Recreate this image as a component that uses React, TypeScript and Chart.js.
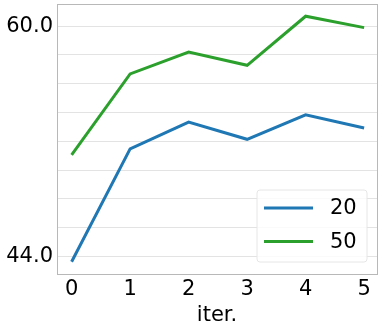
import React, { useEffect, useRef } from "react";
import { Chart, registerables } from "chart.js";

Chart.register(...registerables);

const iterations = [0, 1, 2, 3, 4, 5];
const seriesLabels = ["20", "50"];
const series20 = [43.63, 51.47, 53.34, 52.14, 53.84, 52.92];
const series50 = [51.05, 56.68, 58.2, 57.28, 60.69, 59.9];
const yGridValues = [44, 46, 48, 50, 52, 54, 56, 58, 60];
const yLabeledTicks = [44, 60];
const xTickValues = [0, 1, 2, 3, 4, 5];

const FONT = "'DejaVu Sans', sans-serif";

const framePlugin = {
  id: "frame",
  afterDatasetsDraw(chart: any) {
    const { ctx, chartArea } = chart;
    ctx.save();
    ctx.strokeStyle = "#b8b8b8";
    ctx.lineWidth = 1;
    ctx.strokeRect(
      Math.round(chartArea.left) + 0.5,
      Math.round(chartArea.top) + 0.5,
      Math.round(chartArea.right - chartArea.left),
      Math.round(chartArea.bottom - chartArea.top)
    );
    ctx.restore();
  },
};

const legendPlugin = {
  id: "innerLegend",
  afterDraw(chart: any) {
    const { ctx, chartArea } = chart;
    const boxRight = chartArea.right - 10;
    const boxBottom = chartArea.bottom - 12;
    const boxW = 110;
    const boxH = 72;
    const x0 = boxRight - boxW;
    const y0 = boxBottom - boxH;
    ctx.save();
    ctx.beginPath();
    const r = 3;
    ctx.moveTo(x0 + r, y0);
    ctx.lineTo(x0 + boxW - r, y0);
    ctx.quadraticCurveTo(x0 + boxW, y0, x0 + boxW, y0 + r);
    ctx.lineTo(x0 + boxW, y0 + boxH - r);
    ctx.quadraticCurveTo(x0 + boxW, y0 + boxH, x0 + boxW - r, y0 + boxH);
    ctx.lineTo(x0 + r, y0 + boxH);
    ctx.quadraticCurveTo(x0, y0 + boxH, x0, y0 + boxH - r);
    ctx.lineTo(x0, y0 + r);
    ctx.quadraticCurveTo(x0, y0, x0 + r, y0);
    ctx.closePath();
    ctx.fillStyle = "rgba(255,255,255,0.8)";
    ctx.fill();
    ctx.strokeStyle = "#e6e6e6";
    ctx.lineWidth = 1;
    ctx.stroke();
    chart.data.datasets.forEach((ds: any, i: number) => {
      const y = y0 + 18 + i * 33.5;
      ctx.beginPath();
      ctx.strokeStyle = ds.borderColor;
      ctx.lineWidth = 3;
      ctx.moveTo(x0 + 7, y);
      ctx.lineTo(x0 + 56, y);
      ctx.stroke();
      ctx.fillStyle = "#000";
      ctx.font = `21px ${FONT}`;
      ctx.textAlign = "left";
      ctx.textBaseline = "middle";
      ctx.fillText(ds.label, x0 + 73, y + 1);
    });
    ctx.restore();
  },
};

export default function App() {
  const canvasRef = useRef<HTMLCanvasElement | null>(null);

  useEffect(() => {
    document.body.style.margin = "0";
    const canvas = canvasRef.current;
    if (!canvas) return;
    const chart = new Chart(canvas, {
      type: "line",
      data: {
        datasets: [
          {
            label: seriesLabels[0],
            data: iterations.map((x, i) => ({ x, y: series20[i] })),
            borderColor: "#1f77b4",
            backgroundColor: "#1f77b4",
            borderWidth: 3,
            pointRadius: 0,
            tension: 0,
          },
          {
            label: seriesLabels[1],
            data: iterations.map((x, i) => ({ x, y: series50[i] })),
            borderColor: "#2ca02c",
            backgroundColor: "#2ca02c",
            borderWidth: 3,
            pointRadius: 0,
            tension: 0,
          },
        ],
      },
      options: {
        responsive: false,
        animation: false,
        devicePixelRatio: 1,
        layout: { padding: { top: 4, right: 6, left: 0, bottom: 0 } },
        plugins: {
          legend: { display: false },
          tooltip: { enabled: false },
        },
        scales: {
          x: {
            type: "linear",
            min: -0.25,
            max: 5.22,
            afterBuildTicks: (scale: any) => {
              scale.ticks = xTickValues.map((v) => ({ value: v }));
            },
            afterFit: (scale: any) => {
              scale.height = 54;
              scale.paddingLeft = 0;
              scale.paddingRight = 0;
            },
            grid: { display: false, drawTicks: false },
            border: { display: false },
            ticks: {
              color: "#000",
              font: { family: FONT, size: 21 },
              padding: 3,
              maxRotation: 0,
              callback: (v: any) => String(v),
            },
            title: {
              display: true,
              text: "iter.",
              color: "#000",
              font: { family: FONT, size: 21 },
              padding: { top: -5, bottom: 0 },
            },
          },
          y: {
            type: "linear",
            min: 42.78,
            max: 61.54,
            afterBuildTicks: (scale: any) => {
              scale.ticks = yGridValues.map((v) => ({ value: v }));
            },
            afterFit: (scale: any) => {
              scale.width = 57;
              scale.paddingTop = 0;
              scale.paddingBottom = 0;
            },
            grid: { color: "#e3e3e3", lineWidth: 1, drawTicks: false },
            border: { display: false },
            ticks: {
              color: "#000",
              font: { family: FONT, size: 21 },
              padding: 4,
              callback: (v: any) =>
                yLabeledTicks.includes(Number(v)) ? Number(v).toFixed(1) : "",
            },
          },
        },
      },
      plugins: [framePlugin, legendPlugin],
    });
    return () => chart.destroy();
  }, []);

  return (
    <div style={{ position: "fixed", left: 0, top: 0, width: 383, height: 328, background: "#fff" }}>
      <canvas ref={canvasRef} width={383} height={328} style={{ width: 383, height: 328 }} />
    </div>
  );
}
